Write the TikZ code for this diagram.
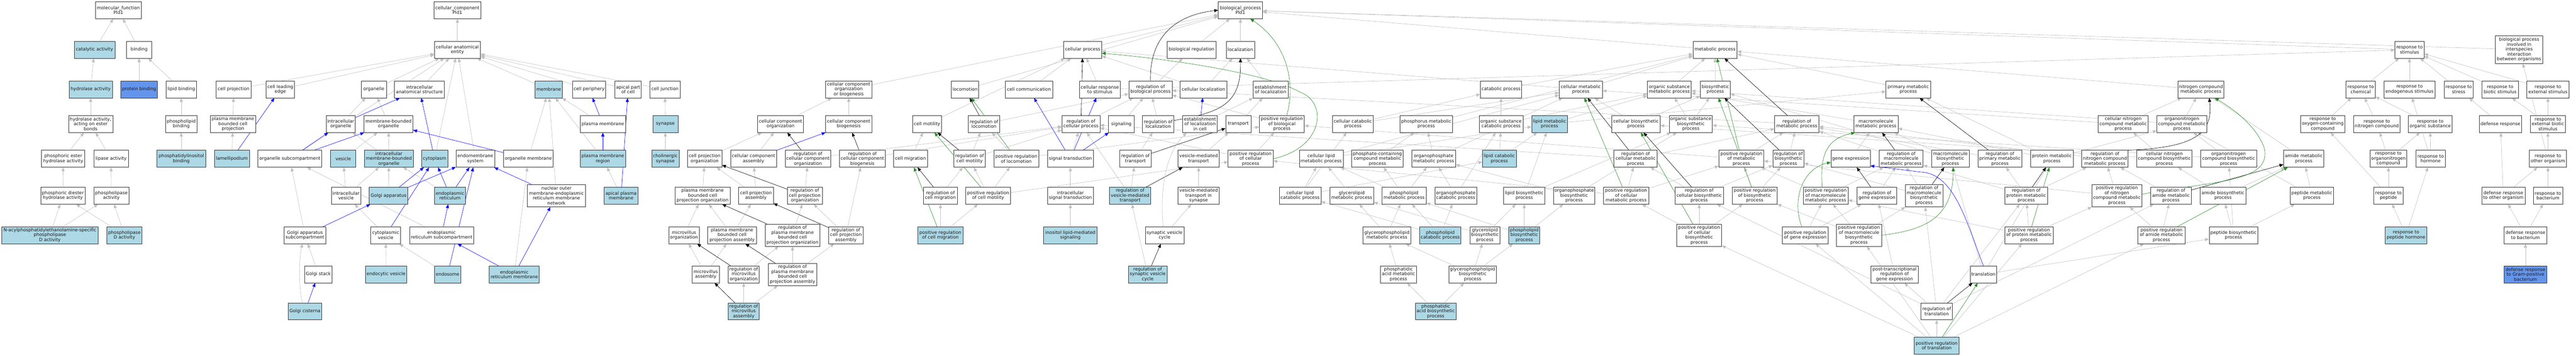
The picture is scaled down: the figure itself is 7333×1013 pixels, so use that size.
\documentclass[tikz,border=0pt]{standalone}
\usepackage{fontspec}
\setmainfont{DejaVu Sans}
\usetikzlibrary{arrows.meta}
\definecolor{lbc}{HTML}{ADD8E6}
\definecolor{cbc}{HTML}{6495ED}
\definecolor{grc}{HTML}{C0C0C0}
\definecolor{grn}{HTML}{228B22}
\newcommand{\gofont}{\fontsize{12.8}{14}\selectfont}
\pgfdeclarelayer{bgl}
\pgfdeclarelayer{edl}
\pgfsetlayers{bgl,edl,main}
\begin{document}
\begin{tikzpicture}[x=1pt,y=-1pt,
 nd/.style={draw=black!80,line width=1pt,fill=white,rectangle,minimum height=48pt,inner xsep=1.5pt,inner ysep=0pt,align=center,font=\gofont,text=black!90},
 lb/.style={nd,fill=lbc},
 cb/.style={nd,fill=cbc},
 ed/.style={line width=0.9pt,-{Triangle[length=11pt,width=9pt]}},
 isa/.style={ed,draw=grc},
 prt/.style={ed,draw=blue},
 rg/.style={ed,draw=black},
 prg/.style={ed,draw=grn}]
\begin{pgfonlayer}{bgl}
\fill[white] (0,0) rectangle (7333,1013);
\end{pgfonlayer}
\useasboundingbox (0,0) rectangle (7333,1013);
% ---------------- molecular function
\node[nd,minimum width=131pt] (mf) at (337,29) {molecular\_function\\Pld1};
\node[lb,minimum width=116pt] (cat) at (269,141.5) {catalytic activity};
\node[nd,minimum width=72pt] (bind) at (396,141.5) {binding};
\node[lb,minimum width=123pt] (hyd) at (258,254.5) {hydrolase activity};
\node[cb,minimum width=104pt] (pbind) at (396,254.5) {protein binding};
\node[nd,minimum width=86pt] (lbind) at (516,254.5) {lipid binding};
\node[nd,minimum width=99pt] (cproj) at (665,254.5) {cell projection};
\node[nd,minimum width=126pt] (hydE) at (258,353) {hydrolase activity,\\acting on ester\\bonds};
\node[nd,minimum width=89pt] (plbind) at (516,353) {phospholipid\\binding};
\node[nd,minimum width=129pt] (pmbcp) at (663,353) {plasma membrane\\bounded cell\\projection};
\node[nd,minimum width=123pt] (pesth) at (180,452) {phosphoric ester\\hydrolase activity};
\node[nd,minimum width=98pt] (lipase) at (316,452) {lipase activity};
\node[lb,minimum width=139pt] (pibind) at (516,452) {phosphatidylinositol\\binding};
\node[lb,minimum width=100pt] (lamelli) at (660,452) {lamellipodium};
\node[nd,minimum width=126pt] (pdiest) at (179,557) {phosphoric diester\\hydrolase activity};
\node[nd,minimum width=99pt] (plase) at (317,557) {phospholipase\\activity};
\node[lb,minimum width=275pt] (napepld) at (142,669.5) {N-acylphosphatidylethanolamine-specific\\phospholipase\\D activity};
\node[lb,minimum width=100pt] (pld) at (354,669.5) {phospholipase\\D activity};
% ---------------- cellular component
\node[nd,minimum width=134pt] (cc) at (1302,29) {cellular\_component\\Pld1};
\node[nd,minimum width=131pt] (cae) at (1302,141.5) {cellular anatomical\\entity};
\node[nd,minimum width=81pt] (cle) at (798,254.5) {cell leading\\edge};
\node[nd,minimum width=72pt] (org) at (1064,254.5) {organelle};
\node[nd,minimum width=142pt] (ias) at (1194,254.5) {intracellular\\anatomical structure};
\node[lb,minimum width=78pt] (membrane) at (1562,254.5) {membrane};
\node[nd,minimum width=94pt] (cperiph) at (1677,254.5) {cell periphery};
\node[nd,minimum width=75pt] (apical) at (1788,254.5) {apical part\\of cell};
\node[nd,minimum width=86pt] (cjunc) at (1893,254.5) {cell junction};
\node[nd,minimum width=83pt] (iorg) at (970,353) {intracellular\\organelle};
\node[nd,minimum width=139pt] (mbo) at (1106,353) {membrane-bounded\\organelle};
\node[nd,minimum width=129pt] (pm) at (1716,353) {plasma membrane};
\node[lb,minimum width=72pt] (synapse) at (1894,353) {synapse};
\node[nd,minimum width=182pt] (osub) at (825,452) {organelle subcompartment};
\node[lb,minimum width=72pt] (vesicle) at (977,452) {vesicle};
\node[lb,minimum width=139pt] (imbo) at (1107,452) {intracellular\\membrane-bounded\\organelle};
\node[lb,minimum width=75pt] (cyto) at (1237,452) {cytoplasm};
\node[nd,minimum width=110pt] (endomem) at (1353,452) {endomembrane\\system};
\node[nd,minimum width=141pt] (orgmem) at (1504,452) {organelle membrane};
\node[lb,minimum width=129pt] (pmreg) at (1716,452) {plasma membrane\\region};
\node[lb,minimum width=78pt] (cholsyn) at (1894,452) {cholinergic\\synapse};
\node[nd,minimum width=83pt] (ivesicle) at (985,557) {intracellular\\vesicle};
\node[lb,minimum width=110pt] (golgi) at (1106,557) {Golgi apparatus};
\node[lb,minimum width=89pt] (er) at (1281,557) {endoplasmic\\reticulum};
\node[nd,minimum width=166pt,minimum height=64pt] (nomer) at (1584,557) {nuclear outer\\membrane-endoplasmic\\reticulum membrane\\network};
\node[lb,minimum width=96pt] (apicalpm) at (1768,557) {apical plasma\\membrane};
\node[nd,minimum width=118pt] (golgisub) at (868,669.5) {Golgi apparatus\\subcompartment};
\node[nd,minimum width=85pt] (cytoves) at (1098,669.5) {cytoplasmic\\vesicle};
\node[nd,minimum width=182pt] (ersub) at (1257,669.5) {endoplasmic\\reticulum subcompartment};
\node[nd,minimum width=78pt] (golgistack) at (906,781) {Golgi stack};
\node[lb,minimum width=118pt] (endoves) at (1099,781) {endocytic vesicle};
\node[lb,minimum width=75pt] (endosome) at (1274,781) {endosome};
\node[lb,minimum width=142pt] (ermem) at (1464,781) {endoplasmic\\reticulum membrane};
\node[lb,minimum width=96pt] (golgicist) at (868,886.5) {Golgi cisterna};
% ---------------- component organization
\node[nd,minimum width=131pt] (ccob) at (2416,254.5) {cellular component\\organization\\or biogenesis};
\node[nd,minimum width=131pt] (ccorg) at (2222,353) {cellular component\\organization};
\node[nd,minimum width=131pt] (ccbio) at (2416,353) {cellular component\\biogenesis};
\node[nd,minimum width=98pt] (cpo) at (2006,452) {cell projection\\organization};
\node[nd,minimum width=130pt] (ccasm) at (2145,452) {cellular component\\assembly};
\node[nd,minimum width=130pt] (regccorg) at (2300,452) {regulation of\\cellular component\\organization};
\node[nd,minimum width=131pt] (regccbio) at (2455,452) {regulation of\\cellular component\\biogenesis};
\node[nd,minimum width=156pt] (pmbcpo) at (2000,557) {plasma membrane\\bounded cell\\projection organization};
\node[nd,minimum width=99pt] (cpa) at (2152,557) {cell projection\\assembly};
\node[nd,minimum width=99pt] (regcpo) at (2291,557) {regulation of\\cell projection\\organization};
\node[nd,minimum width=86pt] (mvo) at (1947,669.5) {microvillus\\organization};
\node[nd,minimum width=139pt] (pmbcpa) at (2084,669.5) {plasma membrane\\bounded cell\\projection assembly};
\node[nd,minimum width=155pt,minimum height=63pt] (regpmbcpo) at (2256,669.5) {regulation of\\plasma membrane\\bounded cell\\projection organization};
\node[nd,minimum width=98pt] (regcpa) at (2408,669.5) {regulation of\\cell projection\\assembly};
\node[nd,minimum width=78pt] (mva) at (2009,781) {microvillus\\assembly};
\node[nd,minimum width=89pt] (regmvo) at (2117,781) {regulation of\\microvillus\\organization};
\node[nd,minimum width=139pt,minimum height=63pt] (regpmbcpa) at (2256,781) {regulation of\\plasma membrane\\bounded cell\\projection assembly};
\node[lb,minimum width=89pt] (regmva) at (2117,886.5) {regulation of\\microvillus\\assembly};
% ---------------- locomotion
\node[nd,minimum width=78pt] (locomotion) at (2747,254.5) {locomotion};
\node[nd,minimum width=134pt] (ccomm) at (2929,254.5) {cell communication};
\node[nd,minimum width=83pt] (cmotility) at (2639,353) {cell motility};
\node[nd,minimum width=89pt] (reglocomotion) at (2801,353) {regulation of\\locomotion};
\node[nd,minimum width=96pt] (cmigration) at (2592,452) {cell migration};
\node[nd,minimum width=89pt] (regcmotility) at (2760,452) {regulation of\\cell motility};
\node[nd,minimum width=128pt] (posreglocomotion) at (2893,452) {positive regulation\\of locomotion};
\node[nd,minimum width=96pt] (regcmigration) at (2677,557) {regulation of\\cell migration};
\node[nd,minimum width=128pt] (posregcmotility) at (2813,557) {positive regulation\\of cell motility};
\node[lb,minimum width=128pt] (posregcmigration) at (2677,669.5) {positive regulation\\of cell migration};
% ---------------- biological process core
\node[nd,minimum width=126pt] (bp) at (3531,29) {biological\_process\\Pld1};
\node[nd,minimum width=108pt] (cp) at (3082,141.5) {cellular process};
\node[nd,minimum width=139pt] (breg) at (3392,141.5) {biological regulation};
\node[nd,minimum width=80pt] (loc) at (3531,141.5) {localization};
\node[nd,minimum width=117pt] (crs) at (3131,254.5) {cellular response\\to stimulus};
\node[nd,minimum width=123pt] (regbp) at (3275,254.5) {regulation of\\biological process};
\node[nd,minimum width=134pt] (celloc) at (3426,254.5) {cellular localization};
\node[nd,minimum width=99pt] (estloc) at (3617,254.5) {establishment\\of localization};
\node[nd,minimum width=108pt] (regcp) at (3077,353) {regulation of\\cellular process};
\node[nd,minimum width=73pt] (signaling) at (3192,353) {signaling};
\node[nd,minimum width=89pt] (regloc) at (3297,353) {regulation of\\localization};
\node[nd,minimum width=98pt] (estlocincell) at (3416,353) {establishment\\of localization\\in cell};
\node[nd,minimum width=72pt] (transport) at (3525,353) {transport};
\node[nd,minimum width=128pt] (posregbp) at (3649,353) {positive regulation\\of biological\\process};
\node[nd,minimum width=131pt] (sigtrans) at (3047,452) {signal transduction};
\node[nd,minimum width=89pt] (regtransport) at (3232,452) {regulation of\\transport};
\node[nd,minimum width=117pt] (vmt) at (3412,452) {vesicle-mediated\\transport};
\node[nd,minimum width=128pt] (posregcp) at (3560,452) {positive regulation\\of cellular\\process};
\node[nd,minimum width=131pt] (intrasig) at (3047,557) {intracellular\\signal transduction};
\node[lb,minimum width=118pt] (regvmt) at (3217,557) {regulation of\\vesicle-mediated\\transport};
\node[nd,minimum width=117pt] (vmtsyn) at (3412,557) {vesicle-mediated\\transport in\\synapse};
\node[lb,minimum width=153pt] (inositol) at (3047,669.5) {inositol lipid-mediated\\signaling};
\node[nd,minimum width=110pt] (svc) at (3315,669.5) {synaptic vesicle\\cycle};
\node[lb,minimum width=110pt] (regsvc) at (3267,781) {regulation of\\synaptic vesicle\\cycle};
% ---------------- lipid metabolism
\node[nd,minimum width=118pt] (catab) at (4273,254.5) {catabolic process};
\node[nd,minimum width=123pt] (cmetab) at (4500,254.5) {cellular metabolic\\process};
\node[nd,minimum width=117pt] (ccatab) at (3851,353) {cellular catabolic\\process};
\node[nd,minimum width=150pt] (phosmetab) at (4060,353) {phosphorus metabolic\\process};
\node[nd,minimum width=124pt] (oscatab) at (4273,353) {organic substance\\catabolic process};
\node[lb,minimum width=102pt] (lipidmetab) at (4411,353) {lipid metabolic\\process};
\node[nd,minimum width=125pt] (clipidmetab) at (3761,452) {cellular lipid\\metabolic process};
\node[nd,minimum width=147pt] (pcmetab) at (3921,452) {phosphate-containing\\compound metabolic\\process};
\node[nd,minimum width=125pt] (opmetab) at (4081,452) {organophosphate\\metabolic process};
\node[lb,minimum width=96pt] (lipidcatab) at (4268,452) {lipid catabolic\\process};
\node[nd,minimum width=119pt] (clipidcatab) at (3701,557) {cellular lipid\\catabolic process};
\node[nd,minimum width=125pt] (glmetab) at (3848,557) {glycerolipid\\metabolic process};
\node[nd,minimum width=126pt] (plmetab) at (3997,557) {phospholipid\\metabolic process};
\node[nd,minimum width=119pt] (opcatab) at (4144,557) {organophosphate\\catabolic process};
\node[nd,minimum width=118pt] (lipidbiosyn) at (4339,557) {lipid biosynthetic\\process};
\node[nd,minimum width=118pt] (opbiosyn) at (4481,557) {organophosphate\\biosynthetic\\process};
\node[nd,minimum width=137pt] (glpmetab) at (3948,669.5) {glycerophospholipid\\metabolic process};
\node[lb,minimum width=117pt] (plcatab) at (4100,669.5) {phospholipid\\catabolic process};
\node[nd,minimum width=86pt] (glbiosyn) at (4227,669.5) {glycerolipid\\biosynthetic\\process};
\node[lb,minimum width=88pt] (plbiosyn) at (4339,669.5) {phospholipid\\biosynthetic\\process};
\node[nd,minimum width=102pt] (pametab) at (3981,781) {phosphatidic\\acid metabolic\\process};
\node[nd,minimum width=136pt] (glpbiosyn) at (4192,781) {glycerophospholipid\\biosynthetic\\process};
\node[lb,minimum width=117pt] (pabiosyn) at (4087,886.5) {phosphatidic\\acid biosynthetic\\process};
% ---------------- metabolism
\node[nd,minimum width=126pt] (metab) at (4882,141.5) {metabolic process};
\node[nd,minimum width=125pt] (osmetab) at (4752,254.5) {organic substance\\metabolic process};
\node[nd,minimum width=85pt] (biosyn) at (4883,254.5) {biosynthetic\\process};
\node[nd,minimum width=138pt] (cbiosyn) at (4657,353) {cellular biosynthetic\\process};
\node[nd,minimum width=123pt] (osbiosyn) at (4813,353) {organic substance\\biosynthetic\\process};
\node[nd,minimum width=126pt] (regmetab) at (5115,353) {regulation of\\metabolic process};
\node[nd,minimum width=123pt] (regcmetab) at (4656,452) {regulation of\\cellular metabolic\\process};
\node[nd,minimum width=128pt] (posregmetab) at (4957,452) {positive regulation\\of metabolic\\process};
\node[nd,minimum width=89pt] (regbiosyn) at (5091,452) {regulation of\\biosynthetic\\process};
\node[nd,minimum width=128pt] (posregcmetab) at (4629,557) {positive regulation\\of cellular\\metabolic process};
\node[nd,minimum width=138pt] (regcbiosyn) at (4837,557) {regulation of\\cellular biosynthetic\\process};
\node[nd,minimum width=128pt] (posregbiosyn) at (4995,557) {positive regulation\\of biosynthetic\\process};
\node[nd,minimum width=128pt] (posregmacmetab) at (5197,557) {positive regulation\\of macromolecule\\metabolic process};
\node[nd,minimum width=128pt,minimum height=63pt] (posregcbiosyn) at (4837,669.5) {positive regulation\\of cellular\\biosynthetic\\process};
\node[nd,minimum width=131pt] (posreggeneexp) at (5139,669.5) {positive regulation\\of gene expression};
% ---------------- macromolecule
\node[nd,minimum width=127pt] (primetab) at (5432,254.5) {primary metabolic\\process};
\node[nd,minimum width=126pt] (macmetab) at (5340,353) {macromolecule\\metabolic process};
\node[nd,minimum width=112pt] (geneexp) at (5268,452) {gene expression};
\node[nd,minimum width=125pt] (regmacmetab) at (5412,452) {regulation of\\macromolecule\\metabolic process};
\node[nd,minimum width=107pt] (macbiosyn) at (5552,452) {macromolecule\\biosynthetic\\process};
\node[nd,minimum width=126pt] (regprimetab) at (5693,452) {regulation of\\primary metabolic\\process};
\node[nd,minimum width=121pt] (protmetab) at (5841,452) {protein metabolic\\process};
\node[nd,minimum width=132pt] (regncmetab) at (5992,452) {regulation of\\nitrogen compound\\metabolic process};
\node[nd,minimum width=113pt] (reggeneexp) at (5343,557) {regulation of\\gene expression};
\node[nd,minimum width=107pt,minimum height=64pt] (regmacbiosyn) at (5477,557) {regulation of\\macromolecule\\biosynthetic\\process};
\node[nd,minimum width=121pt] (regprotmetab) at (5768,557) {regulation of\\protein metabolic\\process};
\node[nd,minimum width=128pt,minimum height=63pt] (posregmacbiosyn) at (5292,669.5) {positive regulation\\of macromolecule\\biosynthetic\\process};
\node[nd,minimum width=139pt] (posregprotmetab) at (5776,669.5) {positive regulation\\of protein metabolic\\process};
\node[nd,minimum width=134pt] (ptrge) at (5393,781) {post-transcriptional\\regulation of\\gene expression};
\node[nd,minimum width=76pt] (translation) at (5646,781) {translation};
\node[nd,minimum width=89pt] (regtransl) at (5513,886.5) {regulation of\\translation};
\node[lb,minimum width=128pt] (posregtransl) at (5513,983.5) {positive regulation\\of translation};
% ---------------- nitrogen
\node[nd,minimum width=131pt] (ncmetab) at (6265,254.5) {nitrogen compound\\metabolic process};
\node[nd,minimum width=142pt] (cncmetab) at (6044,353) {cellular nitrogen\\compound metabolic\\process};
\node[nd,minimum width=142pt] (onmetab) at (6211,353) {organonitrogen\\compound metabolic\\process};
\node[nd,minimum width=126pt] (roxy) at (6612,353) {response to\\oxygen-containing\\compound};
\node[nd,minimum width=158pt] (cncbiosyn) at (6161,452) {cellular nitrogen\\compound biosynthetic\\process};
\node[nd,minimum width=159pt] (onbiosyn) at (6344,452) {organonitrogen\\compound biosynthetic\\process};
\node[nd,minimum width=115pt] (amidemetab) at (6558,452) {amide metabolic\\process};
\node[nd,minimum width=142pt,minimum height=64pt] (posregncmetab) at (6026,557) {positive regulation\\of nitrogen\\compound metabolic\\process};
\node[nd,minimum width=115pt] (regamide) at (6180,557) {regulation of\\amide metabolic\\process};
\node[nd,minimum width=130pt] (amidebiosyn) at (6328,557) {amide biosynthetic\\process};
\node[nd,minimum width=123pt] (peptidemetab) at (6581,557) {peptide metabolic\\process};
\node[nd,minimum width=134pt] (posregamide) at (6153,669.5) {positive regulation\\of amide metabolic\\process};
\node[nd,minimum width=139pt] (peptidebiosyn) at (6358,669.5) {peptide biosynthetic\\process};
% ---------------- response
\node[nd,minimum width=83pt] (rstim) at (6859,141.5) {response to\\stimulus};
\node[nd,minimum width=135pt,minimum height=79pt] (bpinter) at (7171,141) {biological process\\involved in\\interspecies\\interaction\\between organisms};
\node[nd,minimum width=83pt] (rchem) at (6720,254.5) {response to\\chemical};
\node[nd,minimum width=145pt] (rendo) at (6859,254.5) {response to\\endogenous stimulus};
\node[nd,minimum width=83pt] (rstress) at (6999,254.5) {response to\\stress};
\node[nd,minimum width=103pt] (rbiotic) at (7117,254.5) {response to\\biotic stimulus};
\node[nd,minimum width=120pt] (rext) at (7253,254.5) {response to\\external stimulus};
\node[nd,minimum width=131pt] (rnitro) at (6766,353) {response to\\nitrogen compound};
\node[nd,minimum width=124pt] (rorg) at (6918,353) {response to\\organic substance};
\node[nd,minimum width=121pt] (defense) at (7118,353) {defense response};
\node[nd,minimum width=100pt] (rextbiotic) at (7253,353) {response to\\external biotic\\stimulus};
\node[nd,minimum width=105pt] (ronitro) at (6799,452) {response to\\organonitrogen\\compound};
\node[nd,minimum width=83pt] (rhormone) at (6919,452) {response to\\hormone};
\node[nd,minimum width=105pt] (rother) at (7253,452) {response to\\other organism};
\node[nd,minimum width=84pt] (rpeptide) at (6799,557) {response to\\peptide};
\node[nd,minimum width=123pt] (defother) at (7126,557) {defense response\\to other organism};
\node[nd,minimum width=84pt] (rbact) at (7253,557) {response to\\bacterium};
\node[lb,minimum width=118pt] (rpephorm) at (6849,669.5) {response to\\peptide hormone};
\node[nd,minimum width=121pt] (defbact) at (7189,669.5) {defense response\\to bacterium};
\node[cb,minimum width=121pt] (defgram) at (7189,781) {defense response\\to Gram-positive\\bacterium};
% ---------------- edges
\begin{pgfonlayer}{edl}
\foreach \a/\b in {cat/mf,bind/mf,hyd/cat,pbind/bind,lbind/bind,hydE/hyd,plbind/lbind,pesth/hydE,lipase/hydE,pibind/plbind,pdiest/pesth,plase/lipase,napepld/pdiest,napepld/plase,pld/pdiest,pld/plase,
cae/cc,cproj/cae,cle/cae,org/cae,ias/cae,membrane/cae,cperiph/cae,apical/cae,cjunc/cae,osub/cae,cyto/cae,endomem/cae,pmbcp/cproj,lamelli/pmbcp,iorg/org,mbo/org,vesicle/mbo,imbo/mbo,imbo/iorg,orgmem/membrane,ivesicle/vesicle,ivesicle/imbo,golgi/imbo,er/imbo,golgisub/osub,cytoves/ivesicle,ersub/osub,golgistack/golgisub,endoves/cytoves,endosome/cytoves,ermem/orgmem,pm/membrane,pmreg/membrane,apicalpm/pmreg,synapse/cjunc,cholsyn/synapse,nomer/membrane,
ccob/bp,ccorg/ccob,ccbio/ccob,cpo/ccorg,ccasm/ccorg,pmbcpo/cpo,cpa/cpo,cpa/ccasm,mvo/pmbcpo,pmbcpa/pmbcpo,pmbcpa/cpa,mva/mvo,mva/pmbcpa,regccorg/regcp,regccbio/regcp,regcpo/regccorg,regcpa/regcpo,regcpa/regccbio,regpmbcpo/regcpo,regpmbcpa/regpmbcpo,regpmbcpa/regcpa,regmvo/regpmbcpo,regmva/regmvo,regmva/regpmbcpa,
locomotion/bp,ccomm/cp,cmotility/cp,reglocomotion/regbp,cmigration/cmotility,regcmotility/reglocomotion,regcmotility/regcp,posreglocomotion/reglocomotion,posreglocomotion/posregbp,regcmigration/regcmotility,posregcmotility/regcmotility,posregcmotility/posreglocomotion,posregcmotility/posregcp,posregcmigration/regcmigration,posregcmigration/posregcmotility,
cp/bp,breg/bp,loc/bp,crs/cp,crs/rstim,regbp/breg,celloc/cp,celloc/loc,estloc/loc,regcp/regbp,signaling/regbp,regloc/regbp,estlocincell/estloc,transport/estloc,posregbp/regbp,sigtrans/regcp,regtransport/regloc,vmt/transport,posregcp/posregbp,posregcp/regcp,intrasig/sigtrans,regvmt/regtransport,regvmt/regcp,vmtsyn/vmt,inositol/intrasig,svc/vmtsyn,regsvc/regvmt,rstim/bp,bpinter/bp,metab/bp,
catab/metab,cmetab/cp,cmetab/metab,osmetab/metab,biosyn/metab,primetab/metab,ncmetab/metab,ccatab/catab,ccatab/cmetab,phosmetab/metab,oscatab/catab,oscatab/osmetab,lipidmetab/primetab,lipidmetab/osmetab,clipidmetab/lipidmetab,clipidmetab/cmetab,pcmetab/phosmetab,opmetab/phosmetab,opmetab/cmetab,lipidcatab/lipidmetab,lipidcatab/oscatab,clipidcatab/clipidmetab,clipidcatab/lipidcatab,clipidcatab/ccatab,glmetab/clipidmetab,plmetab/clipidmetab,plmetab/pcmetab,plmetab/opmetab,opcatab/opmetab,opcatab/oscatab,lipidbiosyn/lipidmetab,lipidbiosyn/osbiosyn,opbiosyn/opmetab,opbiosyn/osbiosyn,glpmetab/glmetab,glpmetab/plmetab,plcatab/plmetab,plcatab/opcatab,plcatab/clipidcatab,glbiosyn/glmetab,glbiosyn/lipidbiosyn,plbiosyn/plmetab,plbiosyn/lipidbiosyn,plbiosyn/opbiosyn,pametab/glpmetab,glpbiosyn/glpmetab,glpbiosyn/glbiosyn,glpbiosyn/plbiosyn,pabiosyn/pametab,pabiosyn/glpbiosyn,
cbiosyn/cmetab,cbiosyn/biosyn,osbiosyn/osmetab,osbiosyn/biosyn,regmetab/regbp,regcmetab/regcp,regcmetab/regmetab,posregmetab/regmetab,posregmetab/posregbp,regbiosyn/regmetab,posregcmetab/regcmetab,posregcmetab/posregmetab,posregcmetab/posregcp,regcbiosyn/regcmetab,regcbiosyn/regbiosyn,posregbiosyn/posregmetab,posregbiosyn/regbiosyn,posregmacmetab/posregmetab,posregmacmetab/regmacmetab,posregcbiosyn/posregcmetab,posregcbiosyn/regcbiosyn,posregcbiosyn/posregbiosyn,posreggeneexp/reggeneexp,posreggeneexp/posregmacmetab,
macmetab/osmetab,geneexp/macmetab,regmacmetab/regmetab,macbiosyn/macmetab,macbiosyn/biosyn,regprimetab/regmetab,protmetab/macmetab,protmetab/primetab,protmetab/onmetab,regncmetab/regmetab,reggeneexp/regmacmetab,regmacbiosyn/regmacmetab,regmacbiosyn/regbiosyn,regprotmetab/regmacmetab,regprotmetab/regprimetab,regprotmetab/regncmetab,posregmacbiosyn/regmacbiosyn,posregmacbiosyn/posregmacmetab,posregmacbiosyn/posregbiosyn,posregprotmetab/regprotmetab,posregprotmetab/posregmacmetab,posregprotmetab/posregncmetab,ptrge/reggeneexp,translation/macbiosyn,translation/protmetab,translation/peptidebiosyn,regtransl/ptrge,regtransl/regmacbiosyn,regtransl/regprotmetab,regtransl/regamide,regtransl/regcbiosyn,posregtransl/regtransl,posregtransl/posregmacbiosyn,posregtransl/posregprotmetab,posregtransl/posregamide,posregtransl/posregcbiosyn,posregtransl/posreggeneexp,
cncmetab/ncmetab,cncmetab/cmetab,onmetab/ncmetab,onmetab/osmetab,cncbiosyn/cncmetab,cncbiosyn/cbiosyn,onbiosyn/onmetab,onbiosyn/osbiosyn,amidemetab/ncmetab,amidebiosyn/amidemetab,amidebiosyn/cncbiosyn,peptidemetab/amidemetab,peptidemetab/onmetab,peptidebiosyn/amidebiosyn,peptidebiosyn/peptidemetab,peptidebiosyn/onbiosyn,regamide/regncmetab,posregncmetab/regncmetab,posregncmetab/posregmetab,posregamide/regamide,posregamide/posregncmetab,
rchem/rstim,rendo/rstim,rstress/rstim,rbiotic/rstim,rext/rstim,roxy/rchem,rnitro/rchem,rorg/rchem,defense/rstress,rextbiotic/rbiotic,rextbiotic/rext,ronitro/rnitro,ronitro/rorg,rhormone/rorg,rhormone/rendo,rother/rextbiotic,rother/bpinter,rpeptide/ronitro,rpeptide/roxy,defother/defense,defother/rother,rbact/rother,rpephorm/rpeptide,rpephorm/rhormone,defbact/defother,defbact/rbact,defgram/defbact}
  \draw[isa] (\a) -- (\b);
\foreach \a/\b in {lamelli/cle,iorg/ias,osub/iorg,osub/mbo,cyto/ias,orgmem/mbo,golgi/cyto,golgi/endomem,er/cyto,er/endomem,golgisub/golgi,cytoves/cyto,ersub/er,endosome/endomem,ermem/ersub,ermem/nomer,golgicist/golgistack,pm/cperiph,pmreg/pm,apicalpm/apical,nomer/endomem,ccasm/ccbio,estlocincell/celloc,sigtrans/ccomm,sigtrans/crs,sigtrans/signaling}
  \draw[prt] (\a) -- (\b);
\foreach \a/\b in {regccorg/ccorg,regccbio/ccbio,regcpo/cpo,regcpa/cpa,regpmbcpo/pmbcpo,regpmbcpa/pmbcpa,regmvo/mvo,regmva/mva,reglocomotion/locomotion,regcmotility/cmotility,regcmigration/cmigration,regcp/cp,regtransport/transport,regvmt/vmt,regsvc/svc,regmetab/metab,regcmetab/cmetab,regbiosyn/biosyn,regcbiosyn/cbiosyn,regmacmetab/macmetab,reggeneexp/geneexp,regmacbiosyn/macbiosyn,regprimetab/primetab,regprotmetab/protmetab,regtransl/translation,regamide/amidemetab}
  \draw[rg] (\a) -- (\b);
\foreach \a/\b in {posreglocomotion/locomotion,posregcmotility/cmotility,posregcmigration/cmigration,posregmetab/metab,posregcmetab/cmetab,posregbiosyn/biosyn,posregcbiosyn/cbiosyn,posregprotmetab/protmetab,posregtransl/translation,posregamide/amidemetab}
  \draw[prg] (\a) -- (\b);
% routed connectors
\draw[isa] ([xshift=-7pt]golgicist.north) .. controls (850,820) and (850,740) .. ([xshift=-7pt]golgisub.south);
\draw[isa] ([xshift=-4pt]svc.north) .. controls (3300,520) and (3325,430) .. ([xshift=-38pt]estlocincell.south);
\draw[rg] (regbp.north) .. controls (3272,120) and (3330,45) .. (bp.west);
\draw[rg] ([yshift=10pt]regloc.east) .. controls (3470,320) and (3534,300) .. (loc.south);
\draw[rg] (regncmetab.north east) .. controls (6250,420) and (6300,380) .. ([xshift=24pt]ncmetab.south);
\draw[prg] ([xshift=14pt]posregbp.north) .. controls (3690,230) and (3660,120) .. ([xshift=28pt]bp.south);
\draw[prg] (posregcp.east) .. controls (3770,420) and (3780,290) .. (3700,262) .. controls (3600,205) and (3300,165) .. ([yshift=-10pt]cp.east);
\draw[prg] ([xshift=-10pt]posreggeneexp.north) .. controls (5100,570) and (5130,480) .. ([yshift=-10pt]geneexp.west);
\draw[prg] ([xshift=-10pt]posregmacmetab.north) .. controls (5180,440) and (5200,395) .. ([xshift=4pt]macmetab.south west);
\draw[prg] (posregmacbiosyn.east) .. controls (5480,655) and (5560,620) .. ([xshift=8pt]macbiosyn.south);
\draw[prg] ([yshift=4pt]posregncmetab.east) .. controls (6300,515) and (6470,520) .. (6445,420) .. controls (6420,350) and (6340,300) .. ([xshift=40pt]ncmetab.south);
\draw[prt] (translation.north) .. controls (5600,640) and (5565,495) .. (5470,490) -- ([yshift=-20pt]geneexp.east);
\end{pgfonlayer}
\end{tikzpicture}
\end{document}
